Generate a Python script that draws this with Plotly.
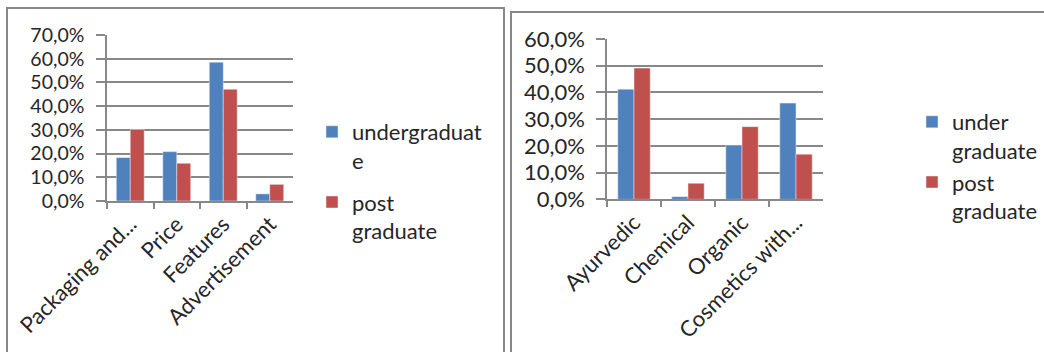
import plotly.graph_objects as go

# ---- data ----
left_categories = ["Packaging and...", "Price", "Features", "Advertisement"]
left_undergraduate = [0.183, 0.208, 0.585, 0.030]
left_postgraduate = [0.302, 0.159, 0.471, 0.070]

right_categories = ["Ayurvedic", "Chemical", "Organic", "Cosmetics with..."]
right_undergraduate = [0.412, 0.010, 0.203, 0.360]
right_postgraduate = [0.491, 0.060, 0.272, 0.169]

left_series_names = ["undergraduat<br>e", "post<br>graduate"]
right_series_names = ["under<br>graduate", "post<br>graduate"]

BLUE = "#4F81BD"
RED = "#C0504D"
GRID = "#888888"
TEXT = "#262626"
FONT = "Lato"
FS = 22

W, H = 1044, 352


def px(x):
    return x / W


def py(y):
    return 1 - y / H


fig = go.Figure()

fig.add_trace(go.Bar(x=left_categories, y=left_undergraduate, name=left_series_names[0],
                     marker_color=BLUE, xaxis="x", yaxis="y", legend="legend",
                     legendgroup="l1"))
fig.add_trace(go.Bar(x=left_categories, y=left_postgraduate, name=left_series_names[1],
                     marker_color=RED, xaxis="x", yaxis="y", legend="legend",
                     legendgroup="l2"))
fig.add_trace(go.Bar(x=right_categories, y=right_undergraduate, name=right_series_names[0],
                     marker_color=BLUE, xaxis="x2", yaxis="y2", legend="legend2"))
fig.add_trace(go.Bar(x=right_categories, y=right_postgraduate, name=right_series_names[1],
                     marker_color=RED, xaxis="x2", yaxis="y2", legend="legend2"))

xcommon = dict(showline=True, linecolor=GRID, linewidth=1.5, ticks="outside",
               tickson="boundaries", ticklen=6, tickcolor=GRID, tickwidth=1.5,
               tickangle=-45, showgrid=False, automargin=False,
               tickfont=dict(family=FONT, size=FS, color=TEXT))
ycommon = dict(showline=True, linecolor=GRID, linewidth=1.5, ticks="outside",
               ticklen=9, tickcolor=GRID, tickwidth=1.5, showgrid=True,
               gridcolor=GRID, gridwidth=1.5, tickformat=".1%", dtick=0.1,
               zeroline=False, automargin=False)

fig.update_layout(
    width=W, height=H,
    margin=dict(l=0, r=0, t=0, b=0, autoexpand=False),
    paper_bgcolor="white", plot_bgcolor="white",
    separators=",.",
    barmode="group", bargap=0.4, bargroupgap=0,
    font=dict(family=FONT, size=FS, color=TEXT),
    xaxis=dict(domain=[px(107), px(293)], anchor="y", **xcommon),
    yaxis=dict(domain=[py(201), py(35)], range=[0, 0.7], anchor="x",
               ticklabelstandoff=8,
               tickfont=dict(family=FONT, size=19.5, color=TEXT), **ycommon),
    xaxis2=dict(domain=[px(607), px(823)], anchor="y2", **xcommon),
    yaxis2=dict(domain=[py(199.3), py(39)], range=[0, 0.6], anchor="x2",
                ticklabelstandoff=7,
                tickfont=dict(family=FONT, size=FS, color=TEXT), **ycommon),
    legend=dict(x=px(312), y=py(111), xanchor="left", yanchor="top",
                valign="top", font=dict(family=FONT, size=FS, color=TEXT),
                bgcolor="rgba(0,0,0,0)", tracegroupgap=10, itemwidth=30),
    legend2=dict(x=px(912), y=py(101), xanchor="left", yanchor="top",
                 valign="top", font=dict(family=FONT, size=FS, color=TEXT),
                 bgcolor="rgba(0,0,0,0)", tracegroupgap=0, itemwidth=30),
    shapes=[
        dict(type="rect", xref="paper", yref="paper", x0=px(7), x1=px(504),
             y0=py(370), y1=py(8), line=dict(color=GRID, width=2), layer="below"),
        dict(type="rect", xref="paper", yref="paper", x0=px(511), x1=px(1080),
             y0=py(370), y1=py(12), line=dict(color=GRID, width=2), layer="below"),
    ],
)

fig.write_html("out.html")
